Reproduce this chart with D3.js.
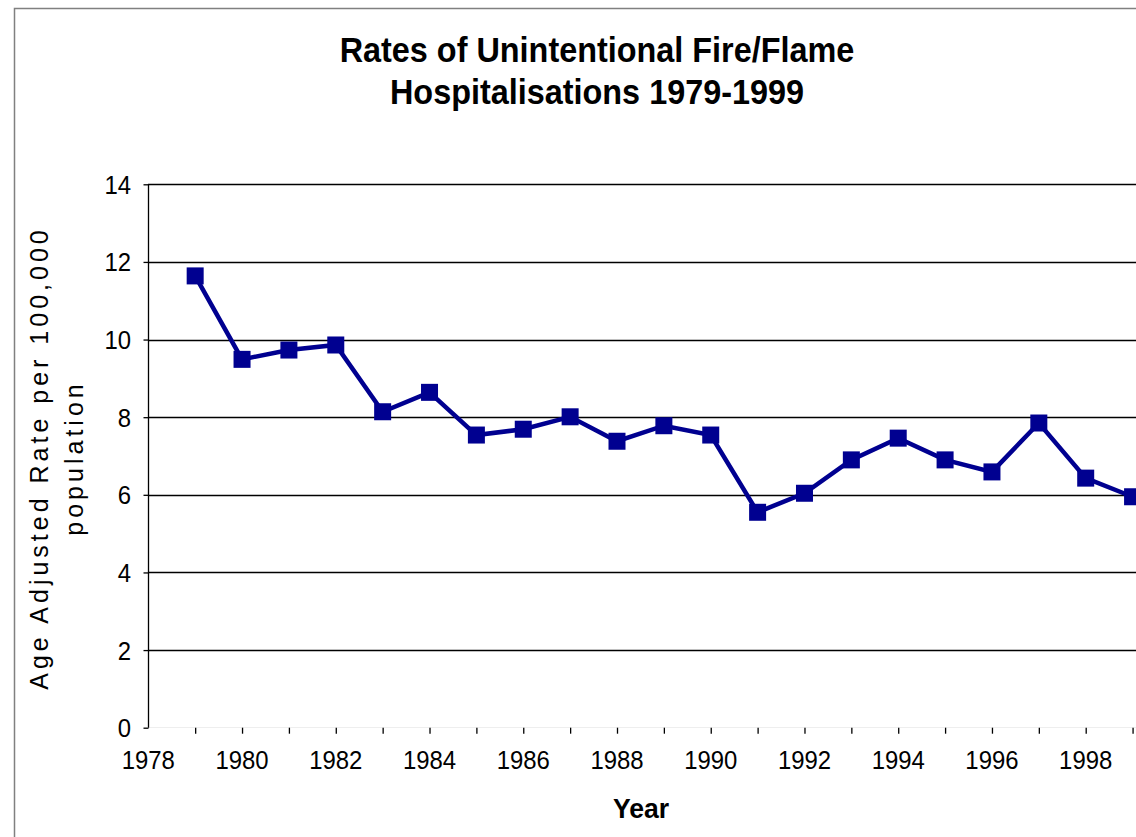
<!DOCTYPE html>
<html>
<head>
<meta charset="utf-8">
<script src="https://cdn.jsdelivr.net/npm/d3@7"></script>
<style>
html,body{margin:0;padding:0;background:#fff;}
svg{display:block;}
text{font-family:"Liberation Sans",Arial,sans-serif;fill:#000;}
</style>
</head>
<body>
<script>
const years = [1979,1980,1981,1982,1983,1984,1985,1986,1987,1988,1989,1990,1991,1992,1993,1994,1995,1996,1997,1998,1999];
const rates = [11.64,9.49,9.73,9.86,8.14,8.64,7.54,7.69,8.01,7.38,7.78,7.54,5.55,6.04,6.90,7.46,6.90,6.59,7.85,6.43,5.95];
const yTicks = [0,2,4,6,8,10,12,14];
const xTickYears = d3.range(1979, 2000);
const xLabelYears = [1978,1980,1982,1984,1986,1988,1990,1992,1994,1996,1998];
const titleLines = ["Rates of Unintentional Fire/Flame","Hospitalisations 1979-1999"];
const yLabelLines = ["Age Adjusted Rate per 100,000","population"];
const xLabel = "Year";

const W = 1136, H = 837;
const svg = d3.select("body").append("svg").attr("width", W).attr("height", H);

// chart border
svg.append("rect").attr("x", 14.5).attr("y", 8.5).attr("width", 1300).attr("height", 1000)
  .attr("fill", "none").attr("stroke", "#808080").attr("stroke-width", 1.5);

const x = d3.scaleLinear().domain([1978, 2000]).range([148.3, 148.3 + 22 * 46.87]);
const y = d3.scaleLinear().domain([0, 14]).range([727.7, 184.3]);

// gridlines
svg.append("g").selectAll("line").data(yTicks.filter(d => d > 0)).join("line")
  .attr("x1", 148).attr("x2", W).attr("y1", d => Math.round(y(d)) + 0.5).attr("y2", d => Math.round(y(d)) + 0.5)
  .attr("stroke", "#000").attr("stroke-width", 1.3);

// x axis baseline (faint)
svg.append("line").attr("x1", 148).attr("x2", W).attr("y1", 727.5).attr("y2", 727.5)
  .attr("stroke", "#eeeeee").attr("stroke-width", 1);

// y axis
const yAxis = d3.axisLeft(y).tickValues(yTicks).tickSize(5).tickFormat("");
const gy = svg.append("g").attr("transform", "translate(148.5,0)").call(yAxis);
gy.select(".domain").attr("stroke", "#000").attr("stroke-width", 1.3).attr("d", `M0,${y(14)}V${y(0)}`);
gy.selectAll(".tick line").attr("stroke", "#000").attr("stroke-width", 1.3);

svg.append("g").selectAll("text").data(yTicks).join("text")
  .attr("transform", d => `translate(131,${y(d) + 9.5}) scale(0.92,1)`)
  .attr("text-anchor", "end").attr("font-size", 26).text(d => d);

// x axis ticks
const xAxis = d3.axisBottom(x).tickValues(xTickYears).tickSize(6).tickFormat("");
const gx = svg.append("g").attr("transform", "translate(0,727.7)").call(xAxis);
gx.select(".domain").remove();
gx.selectAll(".tick line").attr("stroke", "#000").attr("stroke-width", 1.3);

// x labels
svg.append("g").selectAll("text").data(xLabelYears).join("text")
  .attr("transform", d => `translate(${x(d)},769) scale(0.92,1)`)
  .attr("text-anchor", "middle").attr("font-size", 26).text(d => d);

// line
const line = d3.line().x((d, i) => x(years[i])).y(d => y(d));
svg.append("path").datum(rates).attr("d", line).attr("fill", "none")
  .attr("stroke", "#000090").attr("stroke-width", 4.5).attr("stroke-linejoin", "miter");

// markers
const s = 17;
svg.append("g").selectAll("rect").data(rates).join("rect")
  .attr("x", (d, i) => x(years[i]) - s / 2).attr("y", d => y(d) - s / 2)
  .attr("width", s).attr("height", s).attr("fill", "#000090");

// title
svg.append("g").selectAll("text").data(titleLines).join("text")
  .attr("transform", (d, i) => `translate(597,${62 + i * 42}) scale(0.9,1)`)
  .attr("text-anchor", "middle")
  .attr("font-size", 36).attr("font-weight", "bold").text(d => d);

// x axis title
svg.append("text").attr("transform", "translate(641,818) scale(0.95,1)").attr("text-anchor", "middle")
  .attr("font-size", 28).attr("font-weight", "bold").text(xLabel);

// y axis title
svg.append("g").selectAll("text").data(yLabelLines).join("text")
  .attr("transform", (d, i) => `translate(${48 + i * 35},458) rotate(-90)`)
  .attr("text-anchor", "middle").attr("font-size", 25).attr("letter-spacing", 4)
  .text(d => d);
</script>
</body>
</html>
